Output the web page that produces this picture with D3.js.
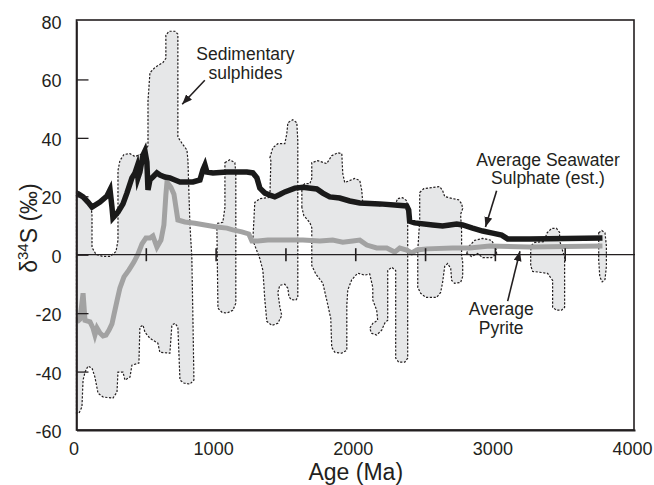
<!DOCTYPE html>
<html>
<head>
<meta charset="utf-8">
<script src="https://cdn.jsdelivr.net/npm/d3@7"></script>
<style>
body{margin:0;background:#fff;}
svg{display:block;font-family:Arial,"Liberation Sans",sans-serif;}
</style>
</head>
<body>
<svg id="graph"></svg>
<script>
// axis ticks
var xTicks = [0,1000,2000,3000,4000]
var yTicks = [-60,-40,-20,0,20,40,60,80]
var zeroTicks = [500,1000,1500,2000,2500,3000,3500]

// average seawater sulphate (est.) [age Ma, d34S]
var sulphate = [[4,21.1],[47,19.8],[82,18.0],[111,16.3],[168,18.0],[218,20.1],[240,22.2],[254,16.3],[261,12.6],[297,14.6],[333,17.4],[361,21.1],[397,26.3],[419,28.0],[433,30.0],[440,26.3],[454,28.3],[476,34.1],[490,35.5],[504,31.7],[512,22.2],[526,25.6],[547,26.6],[576,28.0],[598,27.3],[633,26.6],[669,26.3],[705,25.6],[741,24.9],[834,24.9],[884,25.6],[905,29.0],[920,30.7],[934,28.3],[977,28.0],[1077,28.3],[1220,28.3],[1263,28.0],[1292,26.3],[1313,22.8],[1349,21.1],[1385,20.4],[1420,19.8],[1456,20.6],[1492,21.5],[1564,22.8],[1621,23.1],[1721,22.5],[1764,21.1],[1814,19.8],[1885,19.4],[1957,18.4],[2029,17.7],[2172,17.4],[2365,16.7],[2379,15.3],[2386,11.5],[2422,10.9],[2551,10.2],[2622,9.8],[2673,10.2],[2723,10.5],[2766,10.2],[2837,9.1],[2909,8.1],[2980,7.4],[3045,6.7],[3088,5.4],[3245,5.4],[3767,5.7]]

// average pyrite
var pyrite = [[4,-23.0],[25,-22.1],[47,-13.2],[61,-22.5],[97,-23.0],[118,-25.1],[132,-27.5],[147,-25.1],[168,-26.8],[190,-27.8],[211,-27.5],[233,-25.8],[254,-23.7],[268,-20.6],[290,-15.8],[311,-11.4],[340,-7.6],[376,-5.2],[411,-2.5],[440,0.2],[469,3.7],[497,5.7],[526,5.7],[547,6.4],[576,2.6],[605,5.0],[626,10.2],[640,20.4],[648,24.9],[676,23.1],[698,20.7],[712,16.3],[726,11.9],[776,11.2],[848,10.8],[920,10.2],[1005,9.5],[1077,9.1],[1120,8.5],[1184,7.8],[1234,7.1],[1256,4.7],[1299,4.7],[1370,5.0],[1456,5.0],[1621,5.0],[1743,4.7],[1835,5.0],[1907,4.3],[1979,4.7],[2029,5.0],[2079,3.3],[2150,2.3],[2222,2.3],[2279,0.9],[2315,2.3],[2365,1.6],[2401,0.6],[2437,1.6],[2508,2.0],[2694,2.3],[2816,2.3],[2959,3.0],[3245,2.6],[3767,3.0]]

// sedimentary sulphide envelopes (outline of each field)
var fieldA = [[0,22],[61,19.9],[104,17.2],[111,13.4],[111,2.5],[140,0.1],[190,-0.6],[240,-0.6],[283,1.1],[297,4.9],[297,28.8],[311,32.2],[340,34.3],[383,34.6],[419,33.6],[490,34.9],[512,37.3],[512,52.7],[526,62.3],[562,64.1],[619,65.8],[640,67.2],[640,75.1],[662,76.5],[705,76.5],[726,75.5],[726,40.3],[755,38.2],[791,35.8],[798,32.4],[812,10.7],[826,-0.9],[834,-22.4],[841,-42.9],[812,-44.3],[769,-43.9],[741,-42.9],[726,-24.8],[705,-23.5],[683,-24.1],[669,-33.7],[597,-33.4],[583,-30.3],[526,-28.6],[490,-26.5],[476,-24.1],[454,-24.8],[447,-37.1],[397,-37.8],[383,-41.9],[347,-42.9],[333,-40.2],[297,-40.2],[290,-47.0],[261,-49.1],[190,-48.7],[154,-47.4],[132,-41.9],[111,-38.8],[82,-38.1],[61,-40.2],[47,-42.9],[39,-52.1],[18,-54.2],[0,-54.2]]
var fieldB = [[1063,31.5],[1098,32.5],[1134,31.5],[1141,28.1],[1141,-16.6],[1120,-19.0],[1077,-20.0],[1041,-19.7],[1013,-18.3],[1005,10.7],[1048,11.1],[1063,16.2]]
var fieldC = [[1385,33.2],[1406,36.6],[1442,38.0],[1492,38.0],[1506,41.4],[1514,45.2],[1549,46.2],[1578,45.2],[1585,39.0],[1585,-14.6],[1571,-15.6],[1535,-15.3],[1521,-14.2],[1514,-11.5],[1492,-10.1],[1456,-10.5],[1442,-12.9],[1456,-17.7],[1470,-20.8],[1442,-23.5],[1399,-24.2],[1363,-22.8],[1349,-15.6],[1335,-5.4],[1313,-1.3],[1263,4.9],[1277,17.9],[1313,19.2],[1385,19.6],[1392,32.2]]
var fieldD = [[1614,16.2],[1614,23.3],[1635,24.3],[1671,24.3],[1685,26.1],[1685,31.5],[1728,32.2],[1792,31.2],[1828,33.9],[1871,34.9],[1900,34.6],[1907,27.8],[1921,24.7],[1993,26.1],[2029,25.4],[2043,22.0],[2050,17.9],[2172,16.8],[2286,17.5],[2300,19.2],[2336,19.5],[2365,18.5],[2372,16.2],[2372,-35.4],[2351,-36.8],[2308,-36.8],[2286,-35.4],[2286,-5.4],[2258,-4.3],[2229,-5.4],[2229,-22.4],[2208,-23.4],[2186,-25.8],[2150,-27.5],[2114,-26.9],[2100,-25.2],[2122,-23.5],[2157,-22.4],[2150,-19.0],[2122,-15.5],[2122,-11.2],[2100,-6.6],[2064,-7.0],[2014,-6.3],[1971,-8.6],[1943,-12.1],[1936,-17.2],[1936,-32.7],[1900,-33.7],[1850,-33.4],[1828,-31.7],[1821,-21.8],[1792,-15.5],[1764,-9.7],[1714,-6.6],[1685,-3.7],[1685,9.3],[1671,11.0],[1628,13.4]]
var fieldE = [[2458,21.3],[2487,22.6],[2551,23.0],[2601,23.3],[2622,22.0],[2637,19.9],[2694,19.2],[2737,18.8],[2758,17.5],[2766,15.8],[2751,13.8],[2758,8.3],[2758,-0.2],[2766,-2.6],[2766,-7.4],[2751,-9.5],[2708,-9.8],[2687,-8.8],[2680,-4.7],[2658,-3.0],[2637,-4.0],[2622,-9.5],[2608,-12.9],[2579,-14.6],[2501,-14.6],[2465,-13.2],[2444,-11.2],[2444,1.5],[2458,11.7]]
var fieldF = [[2795,0.4],[2809,2.8],[2852,4.9],[2909,5.6],[2973,4.9],[3002,2.5],[3009,0.4],[2973,-1.0],[2909,-1.0],[2873,0.4],[2830,-0.6]]
var fieldG = [[3259,3.2],[3281,4.2],[3352,4.5],[3367,7.3],[3402,9.0],[3438,9.0],[3460,7.6],[3460,4.9],[3474,2.5],[3496,-0.9],[3496,-18.0],[3474,-19.0],[3438,-19.0],[3410,-18.0],[3410,-8.8],[3374,-6.4],[3317,-6.0],[3267,-5.7],[3253,-3.7],[3253,1.5]]
var fieldH = [[3740,7.5],[3762,8.3],[3785,7.5],[3795,3.0],[3795,-4.0],[3785,-8.5],[3765,-9.3],[3748,-7.5],[3740,-2.0]]
var fields = [fieldA,fieldB,fieldC,fieldD,fieldE,fieldF,fieldG,fieldH]

var screen = {width:654,height:485}
var svg = d3.select("#graph")
    .attr("width",screen.width)
    .attr("height",screen.height)

var xScale = d3.scaleLinear()
    .domain([0,4000])
    .range([76.5,635])
var yScale = d3.scaleLinear()
    .domain([-60,80])
    .range([430,21])

var ink = "#231f20"
var plain = function(d){return String(d)}

svg.append("defs").append("marker")
    .attr("id","arrow")
    .attr("viewBox","0 0 10 8")
    .attr("refX",10).attr("refY",4)
    .attr("markerWidth",10).attr("markerHeight",8)
    .attr("markerUnits","userSpaceOnUse")
    .attr("orient","auto")
    .append("path")
    .attr("d","M0,0L10,4L0,8Z")
    .attr("fill",ink)

var outline = d3.line()
    .x(function(d){return xScale(d[0])})
    .y(function(d){return yScale(d[1])})
    .curve(d3.curveLinearClosed)

svg.append("g").selectAll("path")
    .data(fields)
    .enter()
    .append("path")
    .attr("d",outline)
    .attr("fill","#e6e7e8")
    .attr("stroke",ink)
    .attr("stroke-width",1.2)
    .attr("stroke-dasharray","2.2,1.6")

var trace = d3.line()
    .x(function(d){return xScale(d[0])})
    .y(function(d){return yScale(d[1])})

svg.append("path")
    .attr("d",trace(pyrite))
    .attr("fill","none")
    .attr("stroke","#a2a2a2")
    .attr("stroke-width",5)

svg.append("path")
    .attr("d",trace(sulphate))
    .attr("fill","none")
    .attr("stroke","#1a1a1a")
    .attr("stroke-width",5.5)
    .attr("stroke-miterlimit",6)

// zero line with ticks
svg.append("line")
    .attr("x1",xScale(0)).attr("x2",xScale(4000))
    .attr("y1",yScale(0)).attr("y2",yScale(0))
    .attr("stroke",ink).attr("stroke-width",1.2)
svg.append("g").selectAll("line")
    .data(zeroTicks)
    .enter()
    .append("line")
    .attr("x1",function(d){return xScale(d)})
    .attr("x2",function(d){return xScale(d)})
    .attr("y1",yScale(0)-6.5)
    .attr("y2",yScale(0)+6.5)
    .attr("stroke",ink).attr("stroke-width",1.6)

// frame
svg.append("rect")
    .attr("x",xScale(0)).attr("y",yScale(80)-1)
    .attr("width",xScale(4000)-xScale(0)-1)
    .attr("height",yScale(-60)-yScale(80)+1)
    .attr("fill","none")
    .attr("stroke",ink).attr("stroke-width",1.6)

var yAxis = d3.axisLeft(yScale)
    .tickValues(yTicks)
    .tickFormat(plain)
    .tickSizeInner(-12)
    .tickSizeOuter(0)
    .tickPadding(15)
var gy = svg.append("g")
    .attr("transform","translate("+xScale(0)+",0)")
    .call(yAxis)
gy.select(".domain").attr("stroke",ink).attr("stroke-width",1.6)
gy.selectAll(".tick line").attr("stroke",ink).attr("stroke-width",1.3)
    .filter(function(d){return d==80||d==-60}).remove()
gy.selectAll("text")
    .attr("font-size",18).attr("fill",ink).attr("font-family",null)
    .attr("dy","0.42em")

var xAxis = d3.axisBottom(xScale)
    .tickValues(xTicks)
    .tickFormat(plain)
    .tickSize(0)
    .tickPadding(12)
var gx = svg.append("g")
    .attr("transform","translate(0,"+yScale(-60)+")")
    .call(xAxis)
gx.select(".domain").attr("stroke",ink).attr("stroke-width",1.8)
gx.selectAll("text")
    .attr("font-size",18).attr("fill",ink).attr("font-family",null)
    .attr("dx",-3)

svg.append("text")
    .attr("x",xScale(2000)).attr("y",480)
    .attr("text-anchor","middle")
    .attr("font-size",23).attr("fill",ink)
    .text("Age (Ma)")

var yTitle = svg.append("text")
    .attr("transform","translate(37,228) rotate(-90)")
    .attr("text-anchor","middle")
    .attr("font-size",23).attr("fill",ink)
yTitle.append("tspan").text("\u03b4")
yTitle.append("tspan").attr("font-size",15).attr("dy",-9).text("34")
yTitle.append("tspan").attr("dy",9).text("S (\u2030)")

// annotations: label lines, label anchor [age, value], arrow from/to [age, value]
var notes = [
    {lines:["Sedimentary","sulphides"],at:[1210,66.5],from:[919,59.7],to:[757,51.5]},
    {lines:["Average Seawater","Sulphate (est.)"],at:[3377,30.5],from:[3009,21.9],to:[2929,9.5]},
    {lines:["Average","Pyrite"],at:[3042,-20.8],from:[3088,-15.9],to:[3176,1.2]}
]
notes.forEach(function(n){
    var t = svg.append("text")
        .attr("text-anchor","middle")
        .attr("font-size",17.5).attr("fill",ink)
    n.lines.forEach(function(s,i){
        t.append("tspan")
            .attr("x",xScale(n.at[0]))
            .attr("y",yScale(n.at[1])+i*18.5)
            .text(s)
    })
    svg.append("line")
        .attr("x1",xScale(n.from[0])).attr("y1",yScale(n.from[1]))
        .attr("x2",xScale(n.to[0])).attr("y2",yScale(n.to[1]))
        .attr("stroke",ink).attr("stroke-width",1.6)
        .attr("marker-end","url(#arrow)")
})
</script>
</body>
</html>
